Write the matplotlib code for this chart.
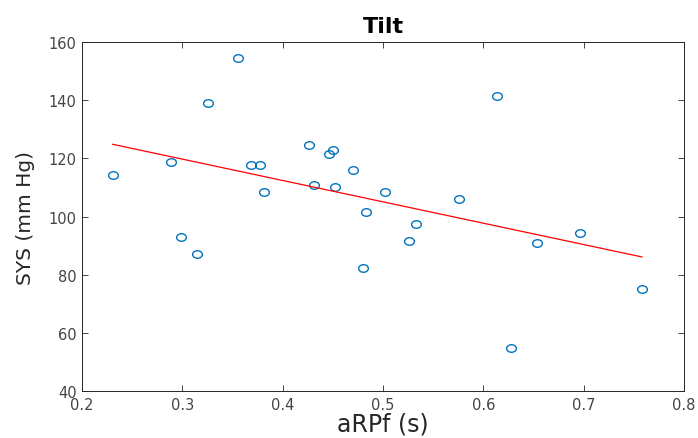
import matplotlib
matplotlib.use("Agg")
import matplotlib.pyplot as plt
from matplotlib.path import Path
from matplotlib.transforms import Affine2D
import numpy as np

plt.rcParams['font.family'] = ['DejaVu Sans']

arpf = [0.2306, 0.2887, 0.2984, 0.315, 0.3253, 0.3555, 0.3685, 0.3778, 0.3818,
        0.426, 0.4316, 0.4466, 0.450, 0.4525, 0.4705, 0.480, 0.483, 0.502,
        0.526, 0.5333, 0.5755, 0.6134, 0.628, 0.6536, 0.696, 0.758]
sys_bp = [114.3, 118.8, 93.1, 87.1, 138.9, 154.6, 117.7, 117.7, 108.5,
          124.5, 110.7, 121.6, 122.8, 110.0, 116.0, 82.2, 101.5, 108.3,
          91.5, 97.3, 106.1, 141.3, 54.8, 91.0, 94.2, 75.2]

# least squares line over the data range
slope, icpt = np.polyfit(arpf, sys_bp, 1)
fit_x = np.array([min(arpf), max(arpf)])
fit_y = slope * fit_x + icpt

# the source image is a bit stretched sideways, so circles look like ellipses
oval = Path.unit_circle().transformed(Affine2D().scale(1.0, 0.78))

fig = plt.figure(figsize=(6.98, 4.39), dpi=100)
ax = fig.add_axes([0.1175, 0.107, 0.8625, 0.795])

ax.plot(arpf, sys_bp, linestyle='none', marker=oval, mfc='none',
        mec=(0, 0.447, 0.741), ms=7, mew=1.0)
ax.plot(fit_x, fit_y, '-', color='red', lw=0.9)

ax.set_xlim(0.2, 0.8)
ax.set_ylim(40, 160)
ax.set_xticks(np.arange(0.2, 0.81, 0.1))
ax.set_yticks(range(40, 161, 20))
ax.set_xticklabels(['0.2', '0.3', '0.4', '0.5', '0.6', '0.7', '0.8'])
ax.tick_params(direction='in', top=True, right=True, length=4, width=0.6,
               labelsize=10.5, colors='#262626', labelcolor='#444444', pad=4)
for s in ax.spines.values():
    s.set_linewidth(0.7)
    s.set_color('#262626')

ax.set_title('Tilt', fontsize=16, fontweight='bold', pad=7)
ax.set_xlabel('aRPf (s)', fontsize=17, color='#262626', labelpad=0)
ax.set_ylabel('SYS (mm Hg)', fontsize=14.5, color='#262626', labelpad=10)

fig.savefig('out.png', dpi=100)
